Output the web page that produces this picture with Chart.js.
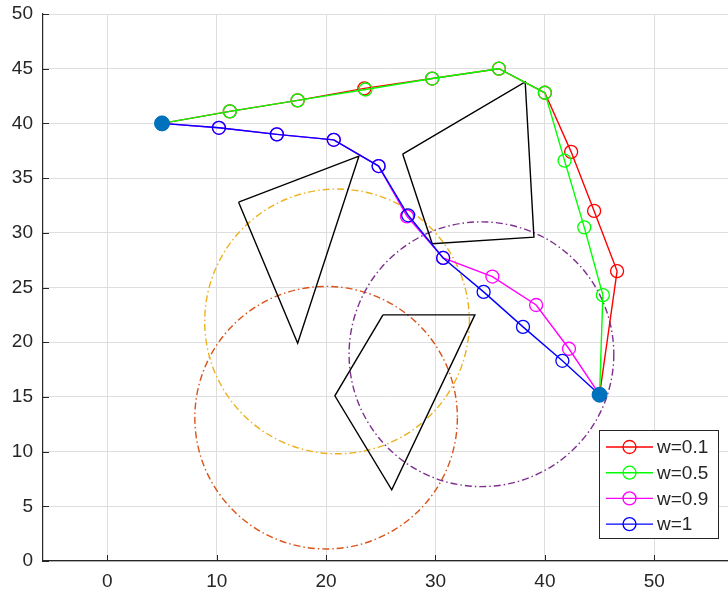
<!DOCTYPE html>
<html>
<head>
<meta charset="utf-8">
<script src="https://cdn.jsdelivr.net/npm/chart.js@4/dist/chart.umd.min.js"></script>
<style>
  html, body { margin: 0; padding: 0; background: #fff; }
  #wrap { width: 728px; height: 598px; }
</style>
</head>
<body>
<div id="wrap"><canvas id="paths" width="728" height="598"></canvas></div>
<script>
// axis ticks
const xTicks = [0, 10, 20, 30, 40, 50];
const yTicks = [0, 5, 10, 15, 20, 25, 30, 35, 40, 45, 50];

// start / goal
const endX = [5, 45];
const endY = [40, 15.2];

// paths for each weight
const w01X = [5, 11.2, 17.4, 23.5, 29.7, 35.8, 40.0, 42.4, 44.5, 46.6, 45];
const w01Y = [40, 41.1, 42.1, 43.2, 44.1, 45.0, 42.8, 37.4, 32.0, 26.5, 15.2];
const w05X = [5, 11.2, 17.4, 23.6, 29.7, 35.8, 40.0, 41.8, 43.6, 45.3, 45];
const w05Y = [40, 41.1, 42.1, 43.1, 44.1, 45.0, 42.8, 36.6, 30.5, 24.3, 15.2];
const w09X = [5, 10.2, 15.5, 20.7, 24.8, 27.4, 30.7, 35.2, 39.2, 42.2, 45];
const w09Y = [40, 39.6, 39.0, 38.5, 36.1, 31.5, 27.7, 26.0, 23.4, 19.4, 15.2];
const w1X = [5, 10.2, 15.5, 20.7, 24.8, 27.5, 30.7, 34.4, 38.0, 41.6, 45];
const w1Y = [40, 39.6, 39.0, 38.5, 36.1, 31.6, 27.7, 24.6, 21.4, 18.3, 15.2];

// obstacles
const obs1X = [12.0, 23.0, 17.4];
const obs1Y = [32.8, 37.0, 19.9];
const obs2X = [27.0, 38.2, 39.0, 29.7];
const obs2Y = [37.2, 43.8, 29.6, 29.0];
const obs3X = [25.2, 33.6, 26.0, 20.8];
const obs3Y = [22.5, 22.5, 6.5, 15.1];

// dash-dot circles
const circX = [20.0, 21.0, 34.2];
const circY = [13.1, 21.9, 18.9];
const circR = [12.0, 12.1, 12.1];
const circColors = ['#D95319', '#EDB120', '#7E2F8E'];

const seriesNames = ['w=0.1', 'w=0.5', 'w=0.9', 'w=1'];
const seriesColors = ['#FF0000', '#00FF00', '#FF00FF', '#0000FF'];

const toPts = (xs, ys) => xs.map((x, i) => ({ x: x, y: ys[i] }));
const closed = (xs, ys) => { const p = toPts(xs, ys); p.push(p[0]); return p; };

const axisColor = '#262626';
const tickFont = { family: '"Liberation Sans", Arial, sans-serif', size: 19 };

function pathSet(label, xs, ys, color, order) {
  return {
    label: label,
    data: toPts(xs, ys),
    showLine: true,
    borderColor: color,
    borderWidth: 1.4,
    pointRadius: 6.5,
    pointHoverRadius: 6.5,
    pointBorderColor: color,
    pointBorderWidth: 1.3,
    pointBackgroundColor: 'rgba(0,0,0,0)',
    order: order
  };
}

function obstacleSet(xs, ys) {
  return {
    label: 'obstacle',
    data: closed(xs, ys),
    showLine: true,
    borderColor: '#000',
    borderWidth: 1.4,
    pointRadius: 0,
    order: 9
  };
}

// circles drawn through the scales, underneath the datasets
const circlePlugin = {
  id: 'circles',
  beforeDatasetsDraw(chart) {
    const { ctx, scales: { x, y } } = chart;
    ctx.save();
    ctx.lineWidth = 1.4;
    ctx.setLineDash([7, 3, 1.5, 3]);
    circX.forEach((cx, i) => {
      const px = x.getPixelForValue(cx);
      const py = y.getPixelForValue(circY[i]);
      const rx = Math.abs(x.getPixelForValue(cx + circR[i]) - px);
      const ry = Math.abs(y.getPixelForValue(circY[i] + circR[i]) - py);
      ctx.strokeStyle = circColors[i];
      ctx.beginPath();
      ctx.ellipse(px, py, rx, ry, 0, 0, Math.PI * 2);
      ctx.stroke();
    });
    ctx.restore();
  }
};

// matlab style inward ticks + legend box
const decorPlugin = {
  id: 'decor',
  afterDraw(chart) {
    const { ctx, chartArea: a, scales: { x, y } } = chart;
    ctx.save();
    ctx.strokeStyle = axisColor;
    ctx.lineWidth = 1;
    ctx.beginPath();
    yTicks.forEach(v => {
      const py = Math.round(y.getPixelForValue(v)) + 0.5;
      ctx.moveTo(a.left, py);
      ctx.lineTo(a.left + 6, py);
    });
    xTicks.forEach(v => {
      const px = Math.round(x.getPixelForValue(v)) + 0.5;
      ctx.moveTo(px, a.bottom);
      ctx.lineTo(px, a.bottom - 6);
    });
    ctx.stroke();

    // legend
    const bx = 599.5, by = 430.5, bw = 119, bh = 108;
    ctx.fillStyle = '#fff';
    ctx.fillRect(bx, by, bw, bh);
    ctx.strokeStyle = axisColor;
    ctx.strokeRect(bx, by, bw, bh);
    ctx.font = '19px "Liberation Sans", Arial, sans-serif';
    ctx.textBaseline = 'middle';
    seriesNames.forEach((name, i) => {
      const ry = 447 + i * 25.7;
      ctx.strokeStyle = seriesColors[i];
      ctx.lineWidth = 1.4;
      ctx.beginPath();
      ctx.moveTo(606, ry);
      ctx.lineTo(653, ry);
      ctx.stroke();
      ctx.lineWidth = 1.3;
      ctx.beginPath();
      ctx.arc(629.5, ry, 6.5, 0, Math.PI * 2);
      ctx.stroke();
      ctx.fillStyle = axisColor;
      ctx.fillText(name, 657, ry + 1);
    });
    ctx.restore();
  }
};

document.addEventListener('DOMContentLoaded', () => {
  const ctx = document.getElementById('paths');
  new Chart(ctx, {
    type: 'scatter',
    data: {
      datasets: [
        {
          label: 'ends',
          data: toPts(endX, endY),
          pointRadius: 7.5,
          pointHoverRadius: 7.5,
          pointBackgroundColor: '#0072BD',
          pointBorderColor: '#0072BD',
          showLine: false,
          order: 0
        },
        pathSet(seriesNames[3], w1X, w1Y, seriesColors[3], 1),
        pathSet(seriesNames[2], w09X, w09Y, seriesColors[2], 2),
        pathSet(seriesNames[1], w05X, w05Y, seriesColors[1], 3),
        pathSet(seriesNames[0], w01X, w01Y, seriesColors[0], 4),
        obstacleSet(obs1X, obs1Y),
        obstacleSet(obs2X, obs2Y),
        obstacleSet(obs3X, obs3Y)
      ]
    },
    options: {
      responsive: false,
      devicePixelRatio: 1,
      animation: false,
      layout: { autoPadding: false, padding: { top: 14, right: 0, left: 0, bottom: 0 } },
      plugins: {
        legend: { display: false },
        tooltip: { enabled: false }
      },
      scales: {
        x: {
          type: 'linear',
          min: -5.88,
          max: 56.74,
          afterBuildTicks: s => { s.ticks = xTicks.map(v => ({ value: v })); },
          afterFit: s => { s.height = 37; s.paddingLeft = 0; s.paddingRight = 0; },
          grid: { color: '#dedede', drawTicks: false },
          border: { color: axisColor, width: 1.2 },
          ticks: { color: axisColor, font: tickFont, padding: 9, maxRotation: 0 }
        },
        y: {
          type: 'linear',
          min: 0,
          max: 50,
          afterBuildTicks: s => { s.ticks = yTicks.map(v => ({ value: v })); },
          afterFit: s => { s.width = 43; s.paddingTop = 0; s.paddingBottom = 0; },
          grid: { color: '#dedede', drawTicks: false },
          border: { color: axisColor, width: 1.2 },
          ticks: { color: axisColor, font: tickFont, padding: 10 }
        }
      }
    },
    plugins: [circlePlugin, decorPlugin]
  });
});
</script>
</body>
</html>
